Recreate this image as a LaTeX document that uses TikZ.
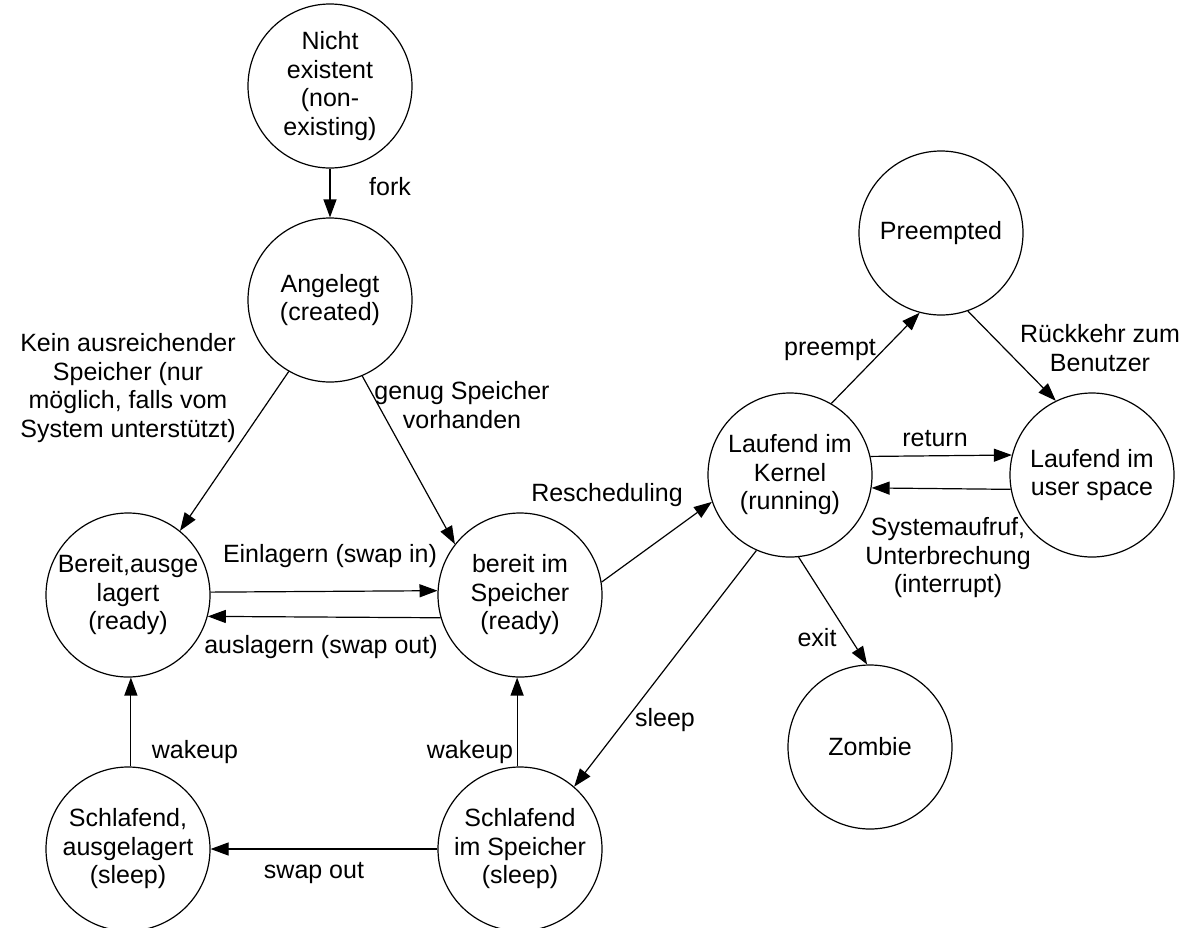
\documentclass[tikz,border=0pt]{standalone}
\usepackage{fontspec}
\setmainfont{Liberation Sans}
\usetikzlibrary{arrows.meta}
\begin{document}
\begin{tikzpicture}[x=1pt,y=-1pt,
  state/.style={circle,draw,line width=1.2pt,minimum size=164pt,inner sep=0pt,align=center,font=\fontsize{25}{28.5}\selectfont},
  trans/.style={line width=1.2pt,-{Triangle[length=18pt,width=13pt]}},
  lbl/.style={align=center,font=\fontsize{25}{28.5}\selectfont,inner sep=0pt}]
\useasboundingbox (0,0) rectangle (1184,927);

\node[state] (ne)  at (330,86)  {Nicht\\existent\\(non-\\existing)};
\node[state] (ang) at (330,300) {Angelegt\\(created)};
\node[state] (ba)  at (128,595) {Bereit,ausge\\lagert\\(ready)};
\node[state] (bs)  at (520,595) {bereit im\\Speicher\\(ready)};
\node[state] (lk)  at (790,475) {Laufend im\\Kernel\\(running)};
\node[state] (pre) at (941,233) {Preempted};
\node[state] (lu)  at (1092,475) {Laufend im\\user space};
\node[state] (zo)  at (870,747) {Zombie};
\node[state] (sa)  at (128,849) {Schlafend,\\ausgelagert\\(sleep)};
\node[state] (ss)  at (520,849) {Schlafend\\im Speicher\\(sleep)};

\draw[trans] (ne) -- (ang);
\draw[trans] (ang.-120) -- (ba.51);
\draw[trans] (ang.-67) -- (bs.142);
\draw[trans] (ba.2.5) -- (bs.177.5);
\draw[trans] (bs.-164.1) -- (ba.-15.9);
\draw[trans] (bs.9) -- (lk.199);
\draw[trans] (lk.60) -- (pre.-105);
\draw[trans] (pre.-71) -- (lu.116);
\draw[trans] (lk.13.4) -- (lu.166.6);
\draw[trans] (lu.-170.2) -- (lk.-9.8);
\draw[trans] (lk.-114) -- (ss.49);
\draw[trans] (lk.-84) -- (zo.92);
\draw[trans] (sa.88) -- (ba.-88);
\draw[trans] (ss.92) -- (bs.-92);
\draw[trans] (ss) -- (sa);

\node[lbl] (lfork) at (390,187) {fork};
\node[lbl] (lkein) at (128,388) {Kein ausreichender\\Speicher (nur\\möglich, falls vom\\System unterstützt)};
\node[lbl] (lgenug) at (462,405) {genug Speicher\\vorhanden};
\node[lbl] (lein) at (330,556) {Einlagern (swap in)};
\node[lbl] (laus) at (321,647) {auslagern (swap out)};
\node[lbl] (lres) at (607,495) {Rescheduling};
\node[lbl] (lpre) at (830,350) {preempt};
\node[lbl] (lrue) at (1100,348) {Rückkehr zum\\Benutzer};
\node[lbl] (lret) at (935,439) {return};
\node[lbl] (lsys) at (948,558) {Systemaufruf,\\Unterbrechung\\(interrupt)};
\node[lbl] (lexit) at (817,638) {exit};
\node[lbl] (lsleep) at (665,720) {sleep};
\node[lbl] (lwake1) at (195,752) {wakeup};
\node[lbl] (lwake2) at (470,752) {wakeup};
\node[lbl] (lswap) at (314,873) {swap out};
\end{tikzpicture}
\end{document}
